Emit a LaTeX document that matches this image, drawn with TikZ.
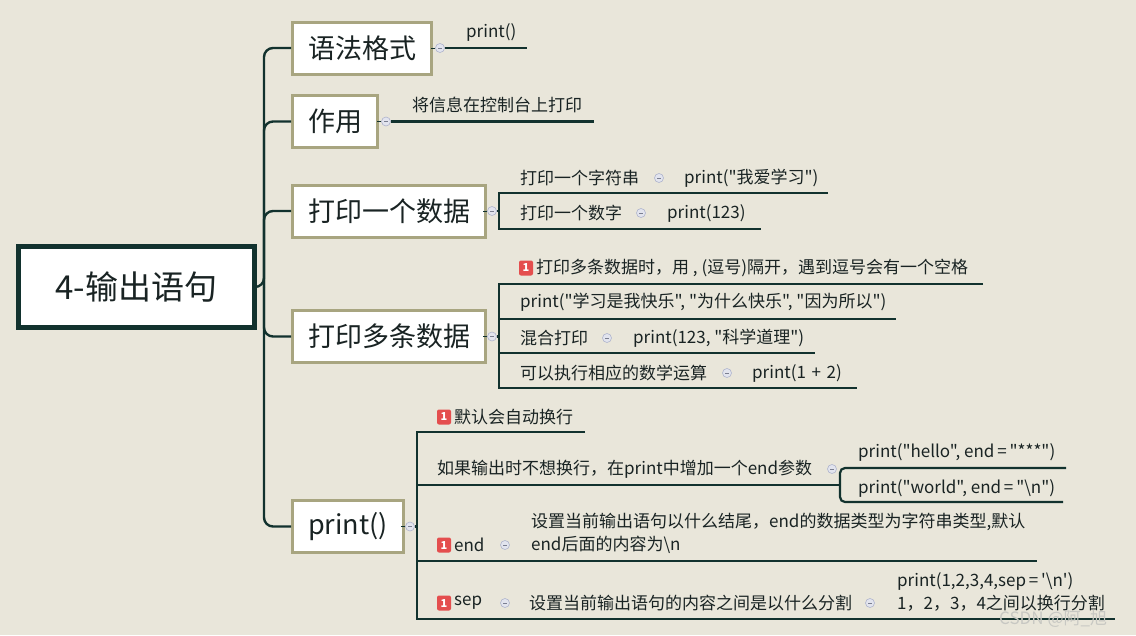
\documentclass[tikz,border=0pt]{standalone}
\usepackage{fontspec}
\newfontfamily\cn{Noto Sans CJK SC}
\definecolor{bg}{RGB}{233,230,218}
\definecolor{dark}{RGB}{18,50,46}
\definecolor{olive}{RGB}{168,165,128}
\definecolor{txt}{RGB}{25,35,35}
\definecolor{badgered}{RGB}{228,78,78}
\definecolor{mfill}{RGB}{226,228,238}
\definecolor{mdraw}{RGB}{175,180,205}
\definecolor{wmgray}{RGB}{200,200,195}
\begin{document}
\begin{tikzpicture}[x=1pt,y=-1pt,
  rootbox/.style={draw=dark,line width=5pt,fill=white,minimum width=236pt,minimum height=81pt,inner sep=0pt,font=\cn\fontsize{33}{36}\selectfont,text=txt},
  lone/.style={draw=olive,line width=3pt,fill=white,minimum height=52pt,inner sep=0pt,font=\cn\fontsize{27}{30}\selectfont,text=txt},
  conn/.style={draw=dark,line width=2.4pt},
  uline/.style={draw=dark,line width=2.2pt},
  leaf/.style={anchor=west,inner sep=0pt,font=\cn\fontsize{17}{23}\selectfont,text=txt,align=left},
  marker/.style={circle,draw=mdraw,fill=mfill,line width=0.6pt,minimum size=9pt,inner sep=0pt},
  badge/.style={rounded corners=2pt,fill=badgered,text=white,minimum width=14pt,minimum height=15pt,inner sep=0pt,font=\cn\bfseries\fontsize{11}{11}\selectfont},
  wm/.style={font=\cn\fontsize{17}{20}\selectfont,text=wmgray,inner sep=0pt}
]
\fill[bg] (0,0) rectangle (1136,635);
\useasboundingbox (0,0) rectangle (1136,635);

% root and level-1 boxes
\node[rootbox] (root) at (136.5,287) {4-输出语句};
\node[lone,minimum width=139pt] (a) at (362,48) {语法格式};
\node[lone,minimum width=85pt] (b) at (335,121.5) {作用};
\node[lone,minimum width=193pt] (c) at (389,211) {打印一个数据};
\node[lone,minimum width=193pt] (d) at (389,336.5) {打印多条数据};
\node[lone,minimum width=111pt] (e) at (348,526.5) {print()};

\coordinate (trunk) at (264,287);
\begin{scope}[conn,rounded corners=9pt]
\draw (root.east) -- (trunk) |- (a.west);
\draw (trunk) |- (b.west);
\draw (trunk) |- (c.west);
\draw (trunk) |- (d.west);
\draw (trunk) |- (e.west);
\end{scope}

% markers next to level-1 boxes
\node[marker] (ma) at (440,48) {};
\node[marker] (mb) at (386,121.5) {};
\node[marker] (mc) at (492,211) {};
\node[marker] (md) at (492,336.5) {};
\node[marker] (me) at (410,526.5) {};
\foreach \m in {ma,mb,mc,md,me}{\draw[dark,line width=0.8pt] (\m.west) ++(-4,0) -- (\m.west);}

% 语法格式
\coordinate (aend) at (527,48);
\draw[uline] (ma.east) -- (aend);
\node[leaf] (a1) at (466,32) {print()};

% 作用
\coordinate (bend) at (594,121.5);
\draw[uline] (mb.east) -- (bend);
\node[leaf] (b1) at (412,105) {将信息在控制台上打印};

% 打印一个数据
\coordinate (cbr) at (499,211);
\coordinate (ct) at (499,193);
\coordinate (cb) at (499,229);
\draw[uline] (mc.east) -- (cbr);
\draw[uline] (828,193) -- (ct) -- (cb) -- (761,229);
\node[leaf] (c1) at (520,178) {打印一个字符串};
\node[marker] (mc1) at (659,178) {};
\node[leaf] (c1v) at (684,178) {print("我爱学习")};
\node[leaf] (c2) at (520,213) {打印一个数字};
\node[marker] (mc2) at (641,213) {};
\node[leaf] (c2v) at (667,213) {print(123)};

% 打印多条数据
\coordinate (dbr) at (499,336.5);
\draw[uline] (md.east) -- (dbr);
\draw[uline] (983,284) -- (499,284) -- (499,388) -- (857,388);
\draw[uline] (499,319) -- (896,319);
\draw[uline] (499,353) -- (815,353);
\node[badge] (d1b) at (526,268) {1};
\node[leaf] (d1) at (536,268) {打印多条数据时，用 , (逗号)隔开，遇到逗号会有一个空格};
\node[leaf] (d2) at (520,302) {print("学习是我快乐", "为什么快乐", "因为所以")};
\node[leaf] (d3) at (520,338) {混合打印};
\node[marker] (md3) at (607,338) {};
\node[leaf] (d3v) at (633,338) {print(123, "科学道理")};
\node[leaf] (d4) at (520,373) {可以执行相应的数学运算};
\node[marker] (md4) at (727,373) {};
\node[leaf] (d4v) at (752,373) {print(1\,\,+\,\,2)};

% print()
\coordinate (ebr) at (417,526.5);
\draw[uline] (me.east) -- (ebr);
\draw[uline] (585,432) -- (417,432) -- (417,619) -- (1115,619);
\draw[uline] (417,485) -- (840,485);
\draw[uline] (417,561) -- (1037,561);
\draw[uline,rounded corners=5pt] (1066,468) -- (840,468) -- (840,502) -- (1063,502);

\node[badge] (e1b) at (444,417) {1};
\node[leaf] (e1) at (454,417) {默认会自动换行};

\node[leaf] (e2) at (437,469) {如果输出时不想换行，在print中增加一个end参数};
\node[marker] (me2) at (832,469) {};
\node[leaf] (e2a) at (858,452) {print("hello", end\,=\,"***")};
\node[leaf] (e2b) at (858,488) {print("world", end\,=\,"\textbackslash n")};

\node[badge] (e3b) at (444,545) {1};
\node[leaf] (e3) at (454,545) {end};
\node[marker] (me3) at (505,545) {};
\node[leaf] (e3v) at (531,533.5) {设置当前输出语句以什么结尾，end的数据类型为字符串类型,默认\\end后面的内容为\textbackslash n};

\node[badge] (e4b) at (444,603) {1};
\node[leaf] (e4) at (454,603) {sep};
\node[marker] (me4) at (505,603) {};
\node[leaf] (e4v) at (529,603) {设置当前输出语句的内容之间是以什么分割};
\node[marker] (me5) at (870,603) {};
\node[leaf] (e4w) at (897,591.5) {print(1,2,3,4,sep\,=\,'\textbackslash n')\\1，2，3，4之间以换行分割};

% inner minus signs on markers
\foreach \m in {ma,mb,mc,md,me,mc1,mc2,md3,md4,me2,me3,me4,me5}{\draw[mdraw!70!black,line width=0.7pt] (\m.center) ++(-2,0) -- ++(4,0);}

\node[wm,anchor=west] (wmk) at (999,619) {CSDN @阿\_旭};
\end{tikzpicture}
\end{document}
